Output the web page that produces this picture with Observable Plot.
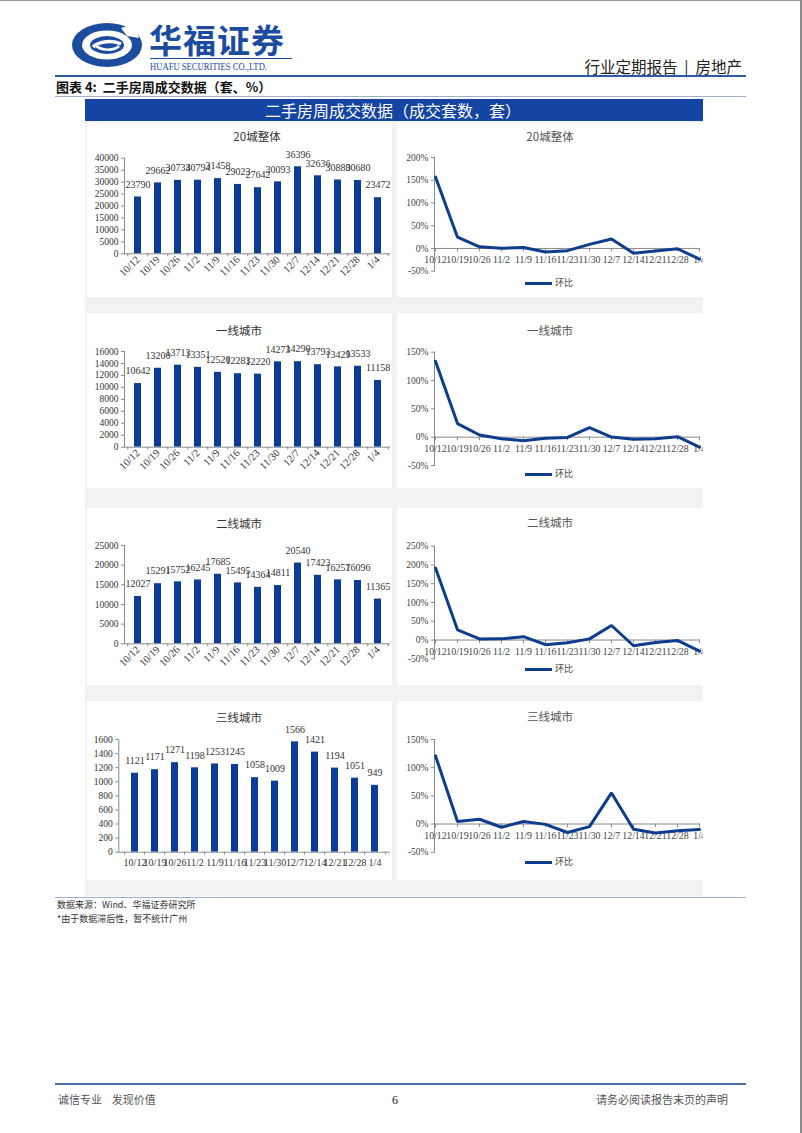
<!DOCTYPE html>
<html><head><meta charset="utf-8">
<script src="https://cdn.jsdelivr.net/npm/d3@7"></script>
<script src="https://cdn.jsdelivr.net/npm/@observablehq/plot@0.6"></script>
<style>
body{margin:0;background:#fff;}
#page{position:relative;width:802px;height:1133px;background:#fff;overflow:hidden;font-family:"Liberation Serif","Noto Sans CJK SC",serif;}
</style></head>
<body><div id="page"></div>
<script>
// ---------- data ----------
const weeks = ["10/12","10/19","10/26","11/2","11/9","11/16","11/23","11/30","12/7","12/14","12/21","12/28","1/4"];
const city20 = [23790,29662,30734,30794,31458,29023,27642,30093,36396,32636,30880,30680,23472];
const city20Chg = [157,24.7,3.6,0.2,2.2,-7.7,-4.8,8.9,20.9,-10.3,-5.4,-0.6,-23.5];
const tier1 = [10642,13200,13713,13351,12520,12283,12220,14273,14290,13793,13429,13533,11158];
const tier1Chg = [134,24.0,3.9,-2.6,-6.2,-1.9,-0.5,16.8,0.1,-3.5,-2.6,0.8,-17.5];
const tier2 = [12027,15291,15752,16245,17685,15495,14364,14811,20540,17423,16257,16096,11365];
const tier2Chg = [192,27.1,3.0,3.1,8.9,-12.4,-7.3,3.1,38.7,-15.2,-6.7,-1.0,-29.4];
const tier3 = [1121,1171,1271,1198,1253,1245,1058,1009,1566,1421,1194,1051,949];
const tier3Chg = [121,4.5,8.5,-5.7,4.6,-0.6,-15.0,-4.6,55.2,-9.3,-16.0,-12.0,-9.7];

const ticks20 = [0,5000,10000,15000,20000,25000,30000,35000,40000];
const ticks1 = [0,2000,4000,6000,8000,10000,12000,14000,16000];
const ticks2 = [0,5000,10000,15000,20000,25000];
const ticks3 = [0,200,400,600,800,1000,1200,1400,1600];
const pct20 = [-50,0,50,100,150,200];
const pct1 = [-50,0,50,100,150];
const pct2 = [-50,0,50,100,150,200,250];
const pct3 = [-50,0,50,100,150];

const titles = ["20城整体","一线城市","二线城市","三线城市"];
const seriesName = "环比";

// ---------- style ----------
const SERIF = "Liberation Serif";
const FONT = '"Liberation Serif","Noto Sans CJK SC",serif';
const CJK = '"Noto Sans CJK SC","Liberation Serif",sans-serif';
const BAR = "#0b3c98";
const LINE = "#0e3c8f";
const AXIS = "#8a8a8a";
const BLUE = "#1c4c9f";

const page = document.getElementById("page");
function rect(x, y, w, h, color) {
  const d = document.createElement("div");
  d.style.cssText = `position:absolute;left:${x}px;top:${y}px;width:${w}px;height:${h}px;background:${color};`;
  page.appendChild(d);
  return d;
}
function label(text, x, y, {size = 12, color = "#222", weight = 400, anchor = "start", family = CJK, extra = ""} = {}) {
  const d = document.createElement("div");
  d.textContent = text;
  d.style.cssText = `position:absolute;top:${y - size * 0.6}px;font-size:${size}px;line-height:${size * 1.2}px;color:${color};font-weight:${weight};white-space:pre;font-family:${family};${extra}`;
  if (anchor === "start") d.style.left = x + "px";
  else if (anchor === "middle") { d.style.left = x + "px"; d.style.transform = "translateX(-50%)"; }
  else d.style.right = (802 - x) + "px";
  page.appendChild(d);
  return d;
}
function place(svg, x, y) {
  svg.style.position = "absolute";
  svg.style.left = x + "px";
  svg.style.top = y + "px";
  page.appendChild(svg);
}

// ---------- page frame ----------
rect(0, 0, 802, 1, "#9a9a9a");
rect(800, 0, 2, 1133, "#8a8a8a");

// logo (decorative)
const logo = document.createElementNS("http://www.w3.org/2000/svg", "svg");
logo.setAttribute("width", 76); logo.setAttribute("height", 50);
logo.innerHTML = `
<ellipse cx="38" cy="25" rx="35" ry="22" fill="${BLUE}"/>
<ellipse cx="38" cy="25" rx="25" ry="14.5" fill="#fff"/>
<path d="M52 8 L66 4 L70 18 L58 16 Z" fill="#fff"/>
<ellipse cx="38" cy="25" rx="17" ry="9" fill="${BLUE}"/>
<path d="M24 27 C30 21, 44 20, 52 24" stroke="#fff" stroke-width="3.5" fill="none"/>
<path d="M26 25 C32 31, 45 31, 50 26" stroke="#fff" stroke-width="2.5" fill="none"/>
`;
logo.style.cssText = "position:absolute;left:69px;top:20px;";
page.appendChild(logo);

label("华福证券", 149, 40, {size: 33, color: BLUE, weight: 700, extra: "letter-spacing:1px;"});
rect(150, 58, 142, 1, BLUE);
label("HUAFU SECURITIES CO.,LTD.", 150, 67, {size: 10, color: BLUE, family: FONT, extra: "transform:scaleX(0.86);transform-origin:left center;"});
label("行业定期报告  |  房地产", 742, 66, {size: 15.5, color: "#222", anchor: "end"});
rect(55, 75, 691, 2, "#2b5aa6");

label("图表 4:  二手房周成交数据（套、%）", 56, 87, {size: 13, color: "#111", weight: 700});
rect(55, 96, 691, 1, "#9fb0cc");

// banner
rect(85, 99, 618, 22, "#1444a4");
label("二手房周成交数据（成交套数，套）", 393, 110.5, {size: 16, color: "#fff", anchor: "middle"});

// grey panel
rect(85, 121, 618, 775, "#f2f2f2");

// ---------- charts ----------
const rows = [
  {y: 122, h: 175, bars: city20, barTicks: ticks20, barDomain: [0, 40000], barM: {l: 37, r: 2, t: 35.7, b: 43.7}, rotate: true, titleX: 257, titleDY: 15,
   chg: city20Chg, pctTicks: pct20, pctDomain: [-50, 200], lineM: {l: 37, r: 3, t: 35, b: 26.3}},
  {y: 313, h: 175, bars: tier1, barTicks: ticks1, barDomain: [0, 16000], barM: {l: 37, r: 2, t: 38, b: 41.3}, rotate: true, titleX: 239, titleDY: 18,
   chg: tier1Chg, pctTicks: pct1, pctDomain: [-50, 150], lineM: {l: 37, r: 3, t: 38.7, b: 23}},
  {y: 508, h: 177, bars: tier2, barTicks: ticks2, barDomain: [0, 25000], barM: {l: 37, r: 2, t: 37, b: 41.7}, rotate: true, titleX: 239, titleDY: 15.5,
   chg: tier2Chg, pctTicks: pct2, pctDomain: [-50, 250], lineM: {l: 37, r: 3, t: 37.7, b: 26.7}},
  {y: 701, h: 179, bars: tier3, barTicks: ticks3, barDomain: [0, 1600], barM: {l: 31.3, r: 2, t: 38, b: 28.3}, rotate: false, titleX: 239, titleDY: 16.5,
   chg: tier3Chg, pctTicks: pct3, pctDomain: [-50, 150], lineM: {l: 37, r: 3, t: 38, b: 28.3}}
];

function barChart(values, ticks, domain, w, h, m, rotate) {
  const data = weeks.map((wk, i) => ({wk, v: values[i]}));
  const step = (w - m.l - m.r) / weeks.length;
  const tl = (domain[1] - domain[0]) * 3 / (h - m.t - m.b);
  return Plot.plot({
    width: w, height: h,
    marginLeft: m.l, marginRight: m.r, marginTop: m.t, marginBottom: m.b,
    style: {background: "#fff", fontFamily: FONT, fontSize: "10px", color: "#333", overflow: "visible"},
    x: {domain: weeks, paddingInner: 0.66, paddingOuter: 0.33, label: null},
    y: {domain: domain, label: null},
    marks: [
      Plot.barY(data, {x: "wk", y: "v", fill: BAR}),
      Plot.text(data, {x: "wk", y: "v", text: d => String(d.v), dy: -12.5, fontSize: 10, fontFamily: SERIF, fill: "#333"}),
      Plot.axisY({ticks: ticks, tickSize: 3, tickPadding: 3, tickFormat: d => String(d), label: null, stroke: AXIS, fill: "#333", fontFamily: SERIF, fontSize: 9.5}),
      rotate
        ? Plot.axisX({tickRotate: -45, tickSize: 0, tickPadding: 4, label: null, fill: "#333", fontFamily: SERIF, fontSize: 10.5})
        : Plot.axisX({tickSize: 0, tickPadding: 7, label: null, fill: "#333", fontFamily: SERIF, fontSize: 10}),
      Plot.ruleY([0], {stroke: AXIS}),
      Plot.frame({anchor: "left", stroke: AXIS}),
      Plot.ruleX(weeks, {x: d => d, y1: 0, y2: -tl, dx: -step / 2, stroke: AXIS}),
      Plot.ruleX([weeks[weeks.length - 1]], {x: d => d, y1: 0, y2: -tl, dx: step / 2, stroke: AXIS})
    ]
  });
}

function lineChart(values, ticks, domain, w, h, m) {
  const data = weeks.map((wk, i) => ({wk, v: values[i]}));
  const tl = (domain[1] - domain[0]) * 3.5 / (h - m.t - m.b);
  return Plot.plot({
    width: w, height: h,
    marginLeft: m.l, marginRight: m.r, marginTop: m.t, marginBottom: m.b,
    style: {background: "#fff", fontFamily: FONT, fontSize: "9.5px", color: "#444", overflow: "hidden"},
    x: {type: "point", domain: weeks, padding: 0, label: null, axis: null},
    y: {domain: domain, label: null},
    marks: [
      Plot.axisY({ticks: ticks, tickSize: 3, tickPadding: 3, tickFormat: d => d + "%", label: null, stroke: AXIS, fill: "#444", fontFamily: SERIF, fontSize: 9.5}),
      Plot.frame({anchor: "left", stroke: AXIS}),
      Plot.ruleY([0], {stroke: AXIS}),
      Plot.ruleX(weeks, {x: d => d, y1: 0, y2: -tl, stroke: AXIS}),
      Plot.text(weeks, {x: d => d, y: () => 0, text: d => d, dy: 11.5, fill: "#444", fontSize: 9.8, fontFamily: SERIF}),
      Plot.lineY(data, {x: "wk", y: "v", stroke: LINE, strokeWidth: 3, strokeLinejoin: "miter"})
    ]
  });
}

rows.forEach((r, i) => {
  // left bar chart
  const b = barChart(r.bars, r.barTicks, r.barDomain, 305, r.h, r.barM, r.rotate);
  place(b, 87, r.y);
  label(titles[i], r.titleX, r.y + r.titleDY, {size: 11.5, color: "#333", anchor: "middle"});
  // right line chart
  const l = lineChart(r.chg, r.pctTicks, r.pctDomain, 306, r.h, r.lineM);
  place(l, 397, r.y);
  label(titles[i], 550, r.y + r.titleDY - 0.5, {size: 11.5, color: "#555", anchor: "middle"});
  // legend
  const ly = r.y + 161;
  rect(525, ly - 1.5, 27, 3, LINE);
  label(seriesName, 555, ly, {size: 9, color: "#444"});
});

// ---------- footer ----------
rect(55, 897, 691, 1, "#9fb0cc");
label("数据来源：Wind、华福证券研究所", 57, 905.5, {size: 9, color: "#333"});
label("*由于数据滞后性，暂不统计广州", 57, 919, {size: 9, color: "#333"});

rect(55, 1083, 691, 1.5, "#4a6fa8");
label("诚信专业    发现价值", 58, 1100, {size: 11, color: "#555"});
label("6", 395, 1100, {size: 12, color: "#111", anchor: "middle", family: FONT});
label("请务必阅读报告末页的声明", 728, 1100, {size: 11, color: "#555", anchor: "end"});
</script>
</body></html>
